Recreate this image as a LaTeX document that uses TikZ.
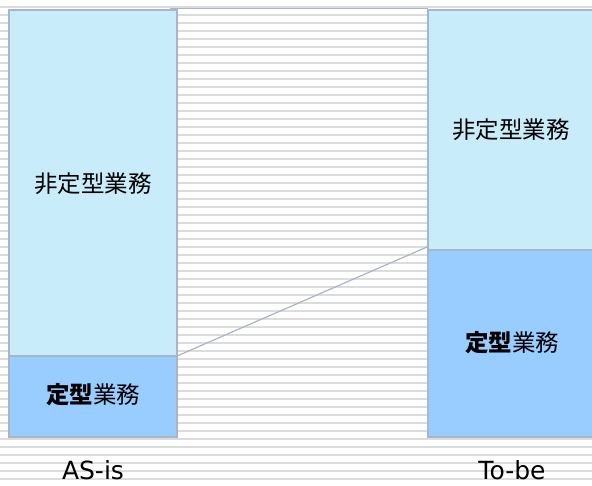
\documentclass[tikz,border=0pt]{standalone}
\usepackage{fontspec}
\setmainfont{DejaVu Sans}
\newfontfamily\jpfont{Noto Sans CJK JP}
\definecolor{lightblue}{HTML}{C8ECFA}
\definecolor{midblue}{HTML}{99CCFF}
\definecolor{edgegray}{HTML}{A8B6C8}
\definecolor{stripe}{HTML}{DCDCDC}
\tikzset{
  stripeline/.style={draw=stripe, line width=1.6pt},
  upperpart/.style={fill=lightblue, draw=edgegray, line width=1.2pt},
  lowerpart/.style={fill=midblue, draw=edgegray, line width=1.2pt},
  jplabel/.style={font=\jpfont\fontsize{23.5}{26}\selectfont, inner sep=0pt},
  caption/.style={font=\fontsize{25}{28}\selectfont, inner sep=0pt},
  link/.style={draw=edgegray, line width=1.2pt},
}
\begin{document}
\begin{tikzpicture}[x=1pt,y=-1pt]
\useasboundingbox (0,0) rectangle (592,485);
\clip (0,0) rectangle (592,485);
\fill[white] (0,0) rectangle (592,485);
% stripes
\foreach \k in {0,...,59}{
  \draw[stripeline] (0,{7+8*\k}) -- (592,{7+8*\k});
}
% top border of middle area
\draw[draw=edgegray, line width=1.5pt] (170,8.3) -- (428,8.3);
% left column
\path[upperpart] (9,10) rectangle (177,356);
\path[lowerpart] (9,356) rectangle (177,437);
\coordinate (lsplit) at (177,356);
% right column
\path[upperpart] (600,10) -- (428,10) -- (428,250) -- (600,250);
\path[fill=midblue] (428,250) rectangle (600,437);
\draw[draw=edgegray, line width=1.2pt] (600,250) -- (428,250) -- (428,437) -- (600,437);
\coordinate (rsplit) at (427,247);
% connector
\draw[link] (lsplit) -- (rsplit);
% labels
\node[jplabel] (lnon) at (93,184) {非定型業務};
\node[jplabel] (lfix) at (93,395) {\bfseries 定型\mdseries 業務};
\node[jplabel] (rnon) at (511,130) {非定型業務};
\node[jplabel] (rfix) at (512,343) {\bfseries 定型\mdseries 業務};
\node[caption] (asis) at (93,470) {AS-is};
\node[caption] (tobe) at (512,470) {To-be};
\end{tikzpicture}
\end{document}
